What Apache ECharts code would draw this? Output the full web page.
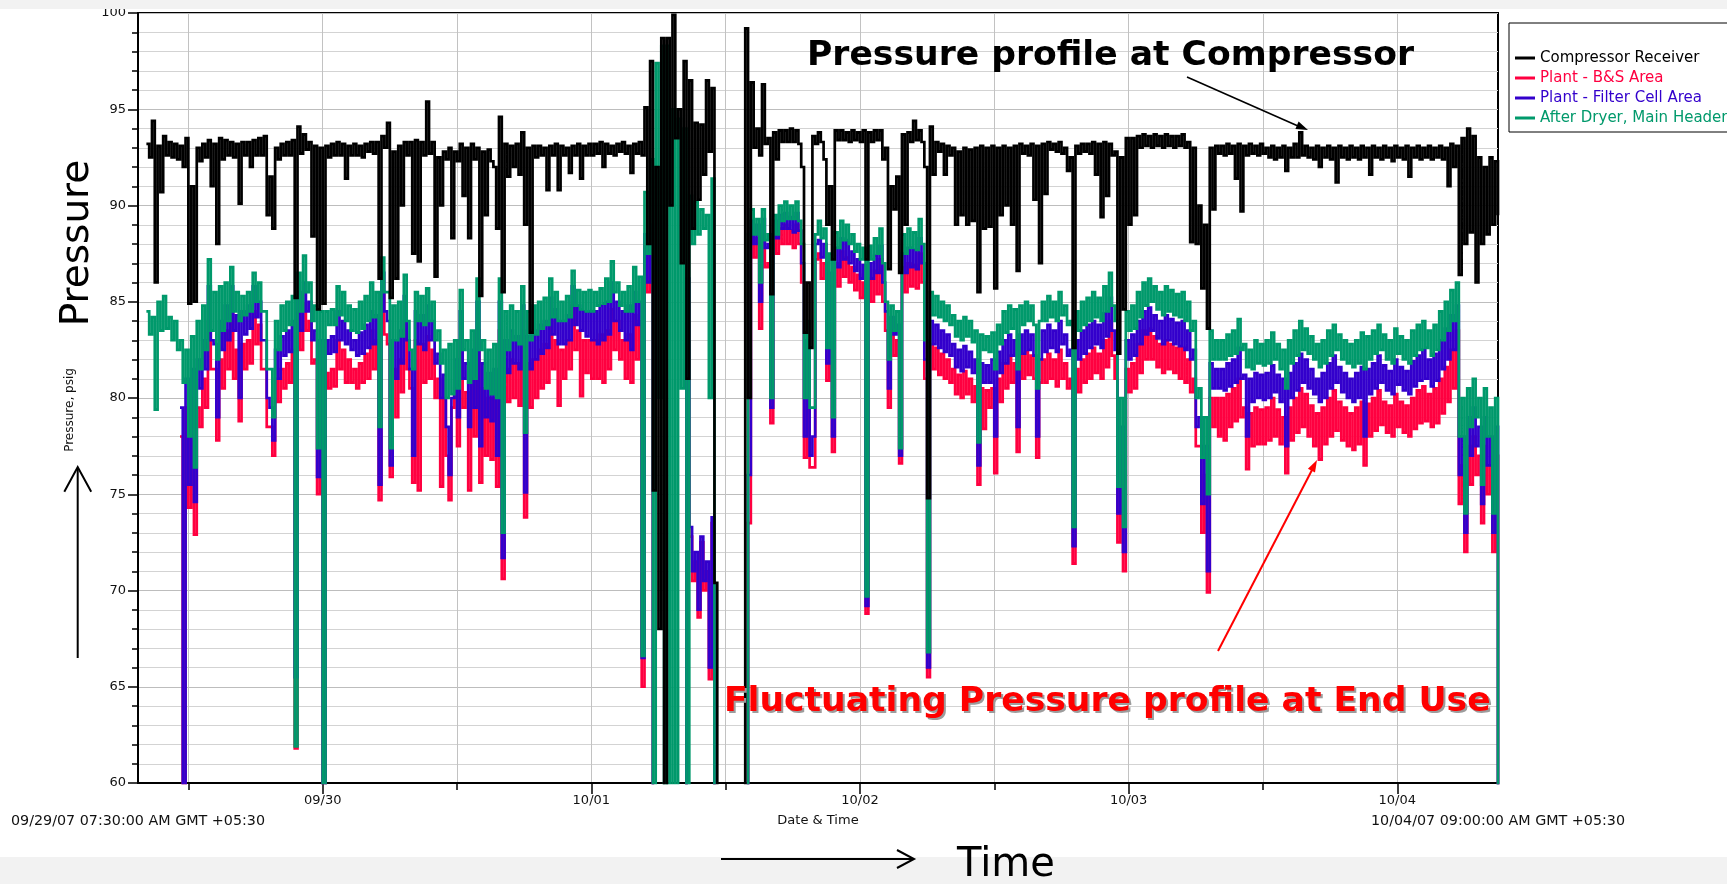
<!DOCTYPE html>
<html><head><meta charset="utf-8">
<script src="https://cdn.jsdelivr.net/npm/echarts@6/dist/echarts.min.js"></script>
<style>html,body{margin:0;padding:0;background:#fff}#c{width:1727px;height:884px}</style>
</head><body><div id="c"></div>
<script>
// ---- time grid: hours since 09/29/07 07:30, one pair of readings every half hour ----
const T0 = 0.75, STEP = 0.5;
const dayTicks = [16.5, 40.5, 64.5, 88.5, 112.5];
const dayLabels = ['09/30', '10/01', '10/02', '10/03', '10/04'];
const noonTicks = [4.5, 28.5, 52.5, 76.5, 100.5];
const seriesNames = ['Compressor Receiver', 'Plant - B&S Area', 'Plant - Filter Cell Area', 'After Dryer, Main Header'];
const seriesColors = ['#000000', '#ff0040', '#3300cc', '#00996b'];

// Compressor Receiver
const recvHi = [
93.2,94.4,93.1,93.6,93.3,93.2,93.1,93.5,91.0,93.0,93.2,93.4,93.2,93.5,93.4,93.3,93.2,93.3,93.3,93.4,93.5,93.6,91.5,93.0,
93.2,93.3,93.4,94.1,93.7,93.3,93.1,93.0,93.1,93.2,93.3,93.2,93.1,93.2,93.1,93.2,93.3,93.3,93.6,94.3,92.8,93.1,93.3,93.3,
93.4,93.3,95.4,93.3,92.5,92.8,93.0,92.8,93.2,93.0,93.2,93.0,92.8,92.9,92.0,94.6,93.2,93.1,93.2,93.8,93.0,93.1,93.1,93.0,
93.1,93.2,93.1,93.0,93.1,93.2,93.1,93.2,93.2,93.3,93.2,93.1,93.2,93.3,93.1,93.2,93.3,95.1,97.5,92.0,98.7,98.7,99.9,95.0,
97.5,96.5,94.3,94.2,96.5,96.1,59,58,58,58,58,99.2,96.4,94.0,96.3,93.5,93.8,93.9,93.9,94.0,93.9,92.0,86.0,93.6,
93.8,92.4,91.0,93.9,93.9,93.8,93.9,93.8,93.9,93.8,93.9,93.9,93.0,91.0,91.5,93.7,93.8,94.4,93.9,92.0,94.1,93.3,93.2,93.1,
93.0,92.8,93.0,92.9,93.0,93.1,93.0,93.1,93.0,93.1,93.0,93.1,93.2,93.1,93.2,93.1,93.2,93.3,93.2,93.3,93.0,92.5,93.1,93.2,
93.2,93.3,93.2,93.3,93.2,92.8,92.5,93.5,93.5,93.6,93.7,93.6,93.7,93.6,93.7,93.6,93.6,93.7,93.3,93.0,90.0,89.0,93.0,93.1,
93.1,93.2,93.1,93.2,93.1,93.2,93.1,93.2,93.0,93.1,93.0,93.1,93.0,93.2,93.8,93.1,93.0,93.1,93.0,93.1,93.0,93.1,93.0,93.1,
93.0,93.1,93.0,93.1,93.0,93.1,93.0,93.1,93.0,93.1,93.0,93.1,93.0,93.1,93.0,93.1,93.0,93.2,93.1,93.5,94.0,93.6,92.5,92.0,
92.5,92.3];
const recvLo = [
92.5,86.0,90.7,92.6,92.5,92.4,92.0,84.9,85.0,92.3,92.5,91.0,88.0,92.4,92.6,92.5,90.1,92.6,92.0,92.6,92.6,89.5,88.8,92.4,
92.6,92.6,85.2,92.7,92.9,88.4,84.6,84.9,92.5,92.6,92.6,91.4,92.6,92.6,92.5,92.8,92.7,86.2,93.0,85.2,86.2,90.0,92.6,87.5,
87.1,92.6,92.7,86.3,90.0,92.4,88.3,92.3,90.5,88.3,92.4,85.3,89.5,92.3,88.8,85.5,91.5,92.0,91.6,89.0,83.4,92.5,92.6,90.8,
92.6,90.8,92.6,91.7,92.6,91.4,92.6,92.6,92.7,92.0,92.7,92.6,92.8,92.7,91.7,92.7,92.6,88.0,75.2,68.0,59.0,90.0,93.5,87.0,
81.0,88.8,90.3,91.6,92.8,70.4,58,58,58,58,58,80.0,93.0,92.6,93.2,85.4,92.4,93.3,93.3,93.3,93.2,83.4,82.6,93.2,
93.3,89.0,87.2,93.4,93.4,93.3,93.4,93.3,87.2,93.3,93.4,92.4,86.7,89.8,86.5,89.0,93.3,93.4,93.3,74.8,91.6,92.8,91.6,92.6,
89.0,89.5,89.0,89.2,85.5,88.8,88.9,85.7,89.5,90.0,89.0,86.6,92.7,92.6,90.3,87.0,90.6,92.9,92.8,92.7,91.8,82.6,92.7,92.8,
92.7,91.6,89.4,90.5,92.6,82.3,84.6,89.0,89.5,93.0,93.1,93.0,93.1,93.0,93.1,93.0,93.1,93.0,88.1,88.0,85.7,83.6,89.8,92.7,
92.6,92.7,91.4,89.7,92.6,92.7,92.6,92.7,92.5,92.4,92.5,91.8,92.5,92.5,92.6,92.5,92.4,92.0,92.5,92.4,91.2,92.5,92.4,92.5,
92.4,92.5,91.6,92.5,92.4,92.5,92.3,92.5,92.4,91.5,92.5,92.4,92.5,92.4,92.5,92.4,91.0,92.0,86.4,88.0,88.6,86.0,88.0,88.5,
89.0,89.5];

// Plant - B&S Area
const bsHi = [
null,null,null,null,null,null,78.0,79.5,80.0,79.5,81.0,84.0,81.5,82.0,83.5,84.5,82.5,82.8,83.0,84.5,83.8,81.5,78.5,81.0,
81.5,81.8,82.5,84.5,84.9,84.0,82.0,81.5,81.3,81.5,83.0,82.5,82.0,81.5,81.8,82.3,83.5,83.0,85.5,82.8,81.5,82.0,84.0,80.5,
83.0,82.8,83.2,82.5,81.0,80.0,74.7,80.5,83.0,80.3,81.0,83.5,80.5,80.0,80.0,83.5,81.5,82.0,81.8,83.5,81.8,82.0,82.5,82.8,
84.0,83.0,82.5,83.0,84.8,83.5,83.0,83.0,83.0,83.3,83.5,84.6,84.0,83.0,83.3,84.3,84.0,88.0,88.5,58,58,58,58,58,
58,72.8,71.5,72.5,71.0,73.5,58,58,58,58,58,58,88.8,88.3,88.5,87.0,88.5,88.8,89.0,88.7,89.0,86.0,82.0,76.4,
87.5,87.0,85.8,87.0,87.6,87.3,86.8,86.4,86.0,86.2,86.6,87.2,83.5,83.5,83.0,86.8,87.0,86.9,87.5,81.0,82.8,82.6,82.3,82.0,
81.5,81.2,81.4,81.0,80.6,80.5,80.4,80.5,81.0,81.8,82.2,81.8,82.2,82.4,82.2,76.9,82.0,82.3,82.0,82.5,81.8,81.0,81.5,82.0,
82.3,82.6,82.3,83.0,84.0,81.0,77.0,81.5,81.8,82.8,83.5,83.6,83.2,82.8,83.0,82.8,82.6,82.6,82.0,81.0,77.5,76.0,80.0,80.0,
80.0,80.2,80.5,81.0,79.5,79.2,79.5,79.4,79.5,80.0,79.4,79.0,79.5,80.0,80.5,80.2,79.6,79.2,79.5,80.0,80.4,79.8,79.5,79.2,
79.5,79.8,79.7,80.0,80.4,79.8,79.6,80.2,79.8,79.6,80.0,80.4,80.6,80.2,80.5,81.0,81.6,82.5,83.5,76.5,77.5,78.0,77.0,77.5,
76.5,77.0];
const bsLo = [
null,null,null,null,null,null,59.0,74.3,72.9,78.5,79.5,81.5,77.8,80.5,81.5,81.0,78.8,81.5,81.8,82.8,81.5,78.5,77.0,79.8,
80.5,80.8,61.8,82.5,83.5,81.8,75.0,59.0,80.5,80.6,81.5,80.8,80.8,80.5,80.8,81.0,81.5,74.7,83.3,75.9,79.0,80.3,81.5,75.6,
75.2,80.8,81.0,80.0,75.4,77.0,79.5,77.5,79.5,75.2,78.0,75.6,77.0,76.8,75.4,70.6,79.8,80.0,79.6,73.8,79.5,80.0,80.5,80.8,
81.5,79.6,81.0,81.5,82.5,80.1,81.3,81.0,81.0,80.8,81.5,82.5,82.0,81.0,80.8,82.0,65.0,85.5,59.0,58,58,58,58,58,
85.0,70.5,68.6,70.0,65.4,59.0,58,58,58,58,58,73.5,87.3,83.6,86.8,78.7,87.5,88.0,88.0,87.8,88.0,76.9,76.4,87.2,
86.2,80.9,77.2,85.8,86.3,86.0,85.6,85.2,68.8,85.0,85.4,85.0,79.5,82.2,76.6,85.5,85.8,85.7,86.0,65.5,81.5,81.2,81.0,80.8,
80.2,80.0,80.2,79.8,75.5,78.4,79.5,76.1,79.8,80.5,80.8,77.2,81.0,81.2,81.0,80.8,80.8,81.0,80.6,81.0,80.5,71.4,80.3,80.8,
81.0,81.3,81.0,81.6,82.2,72.5,71.0,80.3,80.5,81.3,82.0,82.0,81.6,81.3,81.5,81.3,81.0,80.8,80.3,77.5,73.0,69.9,78.5,78.0,
77.8,78.5,78.8,79.0,76.3,77.5,77.6,77.6,77.8,78.0,77.6,76.1,77.8,78.2,78.5,78.0,77.5,76.8,77.6,78.0,78.3,77.8,77.5,77.3,
77.6,76.5,78.0,78.3,78.6,78.2,78.0,78.5,78.2,78.0,78.4,78.7,78.8,78.5,78.7,79.2,79.8,80.5,74.5,72.0,75.5,76.0,73.5,75.0,
72.0,59.0];

// Plant - Filter Cell Area
const fcHi = [
null,null,null,null,null,null,79.5,81.0,81.5,82.0,83.0,85.8,82.8,84.0,84.8,85.8,84.3,84.5,84.8,85.8,85.0,83.0,79.5,82.5,
83.2,83.5,84.0,85.5,86.0,85.0,83.5,83.0,83.0,83.2,84.5,84.0,83.5,83.0,83.4,83.8,84.5,84.3,86.5,84.0,83.0,83.5,85.3,81.5,
84.5,84.3,84.8,84.0,82.3,81.2,76.0,82.0,84.5,81.8,82.5,85.0,81.8,81.3,81.5,85.0,83.0,83.5,83.2,84.8,83.2,83.5,83.8,84.0,
85.2,84.6,84.0,84.3,85.8,84.8,84.5,84.5,84.5,84.8,85.0,86.0,85.0,84.5,84.8,85.5,85.0,88.5,89.0,58,58,58,58,58,
58,73.3,72.0,72.8,71.5,73.8,58,58,58,58,58,58,89.2,89.0,89.3,88.0,89.2,89.5,89.6,89.4,89.6,87.0,83.0,78.0,
88.2,88.0,86.5,87.8,88.3,88.2,87.6,87.2,86.9,87.0,87.4,87.9,84.5,84.2,83.8,87.5,87.8,87.7,88.3,82.0,84.0,83.8,83.5,83.3,
82.8,82.5,82.7,82.4,82.0,81.8,81.7,82.0,82.4,83.0,83.3,83.0,83.3,83.5,83.3,78.0,83.5,83.8,83.5,84.0,83.3,82.5,83.0,83.5,
83.8,84.0,83.8,84.4,85.2,82.5,78.5,83.0,83.3,84.0,84.5,84.7,84.3,84.0,84.3,84.1,83.9,84.0,83.5,82.5,79.0,77.5,81.8,81.5,
81.5,81.8,82.0,82.6,81.2,81.0,81.3,81.2,81.3,81.7,81.2,81.0,81.3,81.8,82.3,82.0,81.5,81.0,81.3,81.8,82.2,81.6,81.3,81.0,
81.3,81.6,81.5,81.8,82.2,81.7,81.4,82.0,81.6,81.4,81.9,82.2,82.5,82.0,82.3,83.0,83.6,84.3,84.8,78.0,79.0,79.5,78.5,79.0,
78.0,78.5];
const fcLo = [
null,null,null,null,null,null,59.0,75.5,74.6,80.5,81.5,83.0,79.0,82.5,83.0,83.5,80.0,83.3,83.6,84.2,83.0,80.0,77.8,81.0,
82.2,82.4,65.5,83.5,84.5,83.0,75.9,59.0,82.3,82.4,83.0,82.8,82.5,82.2,82.3,82.6,82.8,75.5,84.5,76.5,81.0,81.8,83.0,77.0,
82.8,82.5,83.0,81.8,80.0,78.5,80.0,79.0,81.0,78.5,79.5,77.5,79.0,78.8,77.0,71.7,81.3,81.8,81.5,75.1,81.5,82.0,82.3,82.6,
83.3,82.8,82.8,83.0,83.8,83.5,83.2,83.0,82.8,83.0,83.3,84.0,83.5,83.0,82.5,83.8,66.5,86.0,59.0,58,58,58,58,58,
86.2,71.0,69.0,70.5,66.0,59.0,58,58,58,58,58,76.0,88.0,85.0,87.8,79.5,88.3,88.8,88.8,88.6,88.7,78.0,77.0,88.0,
87.3,81.8,78.0,86.8,87.2,87.0,86.6,86.2,69.2,86.2,86.5,86.0,80.5,83.3,77.0,86.5,86.8,86.7,87.0,66.0,82.8,82.6,82.4,82.2,
81.6,81.4,81.6,81.3,76.5,80.8,80.8,78.0,81.3,81.8,82.2,78.5,82.3,82.5,82.2,82.0,82.4,82.6,82.4,82.8,82.2,72.3,82.0,82.3,
82.6,82.8,82.6,83.2,83.5,74.0,72.0,82.0,82.2,82.8,83.3,83.5,83.1,82.8,83.0,82.8,82.7,82.5,82.0,78.5,74.5,71.0,80.5,80.5,
80.4,80.6,80.8,81.0,78.0,79.8,80.0,79.9,80.0,80.3,79.8,77.5,80.0,80.4,80.8,80.5,80.2,79.8,80.0,80.5,80.8,80.3,80.0,79.8,
80.0,78.0,80.2,80.5,80.8,80.4,80.2,80.7,80.4,80.2,80.6,80.9,81.0,80.6,80.9,81.5,82.0,82.5,76.0,73.0,77.0,77.5,74.5,76.5,
73.0,59.0];

// After Dryer, Main Header
const adHi = [
84.5,84.2,85.0,85.3,84.2,84.0,83.0,82.5,83.2,84.0,84.8,87.2,85.5,85.8,86.0,86.8,85.5,85.3,85.5,86.5,86.0,84.5,81.5,84.0,
84.8,85.0,85.3,86.5,87.4,86.0,84.8,84.5,84.5,84.6,85.8,85.5,84.8,84.6,85.0,85.3,86.0,85.5,87.3,85.5,84.8,85.0,86.4,82.5,
85.5,85.3,85.7,85.0,83.5,82.5,82.8,83.0,85.6,83.0,83.5,86.2,83.0,82.5,82.8,86.2,84.5,84.8,84.5,85.8,84.5,84.8,85.0,85.2,
86.2,85.5,85.0,85.3,86.6,85.6,85.5,85.6,85.5,85.7,86.2,87.1,86.0,85.5,85.8,86.8,86.3,90.7,92.4,97.4,98.3,98.3,95.0,94.5,
94.0,90.5,90.2,89.8,89.5,91.4,58,58,58,58,58,58,89.8,89.3,89.8,88.5,89.5,90.0,90.2,90.0,90.2,88.0,84.0,79.5,
89.2,88.8,87.5,88.6,89.2,89.0,88.5,88.0,87.8,87.9,88.3,88.8,85.0,84.8,84.5,88.5,88.8,88.6,89.3,83.0,85.5,85.3,85.0,84.8,
84.3,84.0,84.2,84.0,83.5,83.3,83.2,83.4,83.8,84.5,84.8,84.6,84.8,85.0,84.8,80.5,85.0,85.3,85.0,85.5,84.8,84.0,84.5,85.0,
85.2,85.5,85.2,85.8,86.5,84.0,80.0,84.5,84.8,85.5,86.0,86.2,85.8,85.5,85.8,85.6,85.4,85.5,85.0,84.0,80.5,79.0,83.5,83.0,
83.0,83.3,83.5,84.1,82.8,82.5,83.0,82.8,83.0,83.4,82.8,82.5,83.0,83.5,84.0,83.6,83.2,82.8,83.0,83.5,83.8,83.3,83.0,82.8,
83.0,83.4,83.2,83.5,83.8,83.3,83.0,83.6,83.2,83.0,83.5,83.8,84.0,83.5,83.8,84.5,85.0,85.6,86.0,80.0,80.5,81.0,80.0,80.5,
79.5,80.0];
const adLo = [
83.3,79.4,83.5,83.6,83.0,82.5,80.8,78.0,76.4,81.5,82.5,83.5,82.0,83.5,84.0,84.5,84.0,84.3,84.5,85.0,84.5,81.5,79.0,82.5,
83.5,83.8,61.9,84.5,85.5,84.0,77.4,59.0,83.8,83.8,84.3,84.0,83.5,83.4,83.6,84.0,84.2,78.5,85.5,77.4,83.0,83.2,84.0,81.5,
84.0,83.8,84.0,83.0,81.8,80.0,80.2,80.5,82.5,80.8,81.0,82.5,80.5,80.2,80.0,73.0,82.5,83.0,82.8,78.2,83.0,83.3,83.6,83.8,
84.2,84.0,84.0,84.2,84.8,84.6,84.5,84.5,84.8,84.9,85.0,85.5,84.8,84.5,84.5,85.0,66.6,87.5,59.0,80.0,59.0,59.0,59.0,80.5,
59.0,88.0,88.5,88.8,80.0,59.0,58,58,58,58,58,88.5,88.5,86.0,88.2,80.0,88.5,89.2,89.3,89.3,89.2,80.0,79.5,88.5,
88.3,82.6,79.0,87.8,88.2,88.0,87.6,87.2,69.7,87.2,87.5,87.0,82.0,83.5,77.4,87.5,87.8,87.7,88.0,66.8,84.3,84.2,84.0,83.8,
83.2,83.0,83.2,82.9,77.7,82.5,82.4,81.5,82.8,83.4,83.6,81.5,83.8,84.0,83.8,84.0,84.0,84.2,84.0,84.3,83.8,73.3,83.5,83.8,
84.0,84.2,84.0,84.5,84.8,75.4,73.3,83.5,83.6,84.2,84.8,85.0,84.6,84.3,84.5,84.3,84.2,84.0,83.5,80.0,76.9,75.0,82.0,82.0,
82.0,82.2,82.3,82.5,81.6,81.5,81.8,81.7,81.8,82.0,81.5,80.5,81.8,82.2,82.5,82.3,82.0,81.6,81.8,82.2,82.5,82.0,81.8,81.6,
81.8,81.5,82.0,82.3,82.5,82.0,81.8,82.3,82.0,81.8,82.2,82.5,82.6,82.2,82.5,83.0,83.5,84.0,78.0,74.0,78.5,79.0,75.5,78.0,
74.0,59.0];

// ---- build [time, value] pairs: first reading at t, second at t + STEP/2 ----
function zig(hi, lo) {
  const out = [];
  for (let i = 0; i < hi.length; i++) {
    const t = T0 + STEP * i;
    out.push([t, hi[i]]);
    out.push([t + STEP / 2, lo[i]]);
  }
  return out;
}

const FONT = 'DejaVu Sans';
const defs = [
  { idx: 1, hi: bsHi, lo: bsLo, w: 2.7 },
  { idx: 2, hi: fcHi, lo: fcLo, w: 2.7 },
  { idx: 3, hi: adHi, lo: adLo, w: 2.7 },
  { idx: 0, hi: recvHi, lo: recvLo, w: 2.7 }
];

const chart = echarts.init(document.getElementById('c'), null, { renderer: 'canvas' });
const PAT = '#f2f2f2';
const option = {
  animation: false,
  backgroundColor: '#ffffff',
  grid: { left: 138, top: 13, width: 1360, height: 770, show: true, borderColor: '#000', borderWidth: 2, backgroundColor: 'rgba(0,0,0,0)' },
  legend: {
    show: true, orient: 'vertical', left: 1515, top: 50, padding: 0,
    icon: 'rect', itemWidth: 20, itemHeight: 3, itemGap: 4, selectedMode: false,
    textStyle: { fontSize: 15, fontFamily: FONT, lineHeight: 16 },
    data: seriesNames.map((n, i) => ({ name: n, textStyle: { color: seriesColors[i] } }))
  },
  xAxis: [
    {
      type: 'value', min: 0, max: 121.5, position: 'bottom',
      axisLine: { show: true, onZero: false, lineStyle: { color: '#000', width: 2 } },
      axisTick: { show: true, customValues: dayTicks, length: 11, lineStyle: { color: '#000', width: 1.5 } },
      axisLabel: { show: true, customValues: dayTicks, margin: 11, color: '#111', fontSize: 13, fontFamily: FONT,
        formatter: v => { const k = dayTicks.indexOf(v); return k >= 0 ? dayLabels[k] : ''; } },
      splitLine: { show: true, lineStyle: { color: '#c2c2c2', width: 1 } }
    },
    {
      type: 'value', min: 0, max: 121.5, position: 'bottom',
      axisLine: { show: false },
      axisTick: { show: true, customValues: noonTicks, length: 7, lineStyle: { color: '#000', width: 1.5 } },
      axisLabel: { show: false },
      splitLine: { show: true, lineStyle: { color: '#c2c2c2', width: 1 } }
    }
  ],
  yAxis: {
    type: 'value', min: 60, max: 100, interval: 5,
    axisLine: { show: true, onZero: false, lineStyle: { color: '#000', width: 2 } },
    axisTick: { show: true, length: 10, lineStyle: { color: '#000', width: 1.5 } },
    minorTick: { show: true, splitNumber: 5, length: 6, lineStyle: { color: '#000', width: 1.5 } },
    axisLabel: { margin: 12, color: '#111', fontSize: 13, fontFamily: FONT },
    splitLine: { show: true, lineStyle: { color: '#bdbdbd', width: 1 } },
    minorSplitLine: { show: true, lineStyle: { color: '#d3d3d3', width: 1 } }
  },
  series: defs.map(d => ({
    type: 'line', name: seriesNames[d.idx], data: zig(d.hi, d.lo),
    xAxisIndex: 0, yAxisIndex: 0, step: 'end',
    showSymbol: false, symbol: 'none', silent: true, clip: true,
    lineStyle: { color: seriesColors[d.idx], width: d.w, join: 'miter', cap: 'butt' },
    itemStyle: { color: seriesColors[d.idx] },
    emphasis: { disabled: true }
  })),
  graphic: { elements: [
    { type: 'rect', z: 50, shape: { x: 0, y: 0, width: 1727, height: 9 }, style: { fill: PAT } },
    { type: 'rect', z: 1, shape: { x: 0, y: 857, width: 1727, height: 27 }, style: { fill: PAT } },
    { type: 'rect', z: 1, shape: { x: 1509, y: 23, width: 240, height: 109 }, style: { fill: '#fff', stroke: '#000', lineWidth: 1 } },
    { type: 'text', z: 10, x: 807, y: 56, style: { text: 'Pressure profile at Compressor', fontSize: 34.6, fontWeight: 'bold', fontFamily: FONT, fill: '#000', align: 'left', verticalAlign: 'middle' } },
    { type: 'text', z: 10, x: 726, y: 704, style: { text: 'Fluctuating Pressure profile at End Use', fontSize: 34.6, fontWeight: 'bold', fontFamily: FONT, fill: '#9c9c9c', align: 'left', verticalAlign: 'middle' } },
    { type: 'text', z: 11, x: 724, y: 702, style: { text: 'Fluctuating Pressure profile at End Use', fontSize: 34.6, fontWeight: 'bold', fontFamily: FONT, fill: '#ff0000', align: 'left', verticalAlign: 'middle' } },
    { type: 'line', z: 10, shape: { x1: 1187, y1: 77, x2: 1298, y2: 126 }, style: { stroke: '#000', lineWidth: 1.6 } },
    { type: 'polygon', z: 10, shape: { points: [[1308, 130], [1295.4, 128.9], [1298.6, 121.5]] }, style: { fill: '#000' } },
    { type: 'line', z: 10, shape: { x1: 1218, y1: 651, x2: 1312, y2: 470 }, style: { stroke: '#ff0000', lineWidth: 2 } },
    { type: 'polygon', z: 10, shape: { points: [[1317, 460], [1315.0, 472.5], [1307.9, 468.8]] }, style: { fill: '#ff0000' } },
    { type: 'text', z: 10, x: 78, y: 243, rotation: Math.PI / 2, style: { text: 'Pressure', fontSize: 39, fontFamily: FONT, fill: '#000', align: 'center', verticalAlign: 'middle' } },
    { type: 'text', z: 10, x: 70, y: 410, rotation: Math.PI / 2, style: { text: 'Pressure, psig', fontSize: 12, fontFamily: FONT, fill: '#111', align: 'center', verticalAlign: 'middle' } },
    { type: 'line', z: 10, shape: { x1: 77.7, y1: 658, x2: 77.7, y2: 468 }, style: { stroke: '#000', lineWidth: 2 } },
    { type: 'polyline', z: 10, shape: { points: [[64.3, 491.7], [77.7, 467], [91.2, 491.7]] }, style: { stroke: '#000', lineWidth: 2, fill: null } },
    { type: 'line', z: 10, shape: { x1: 721, y1: 859, x2: 913, y2: 859 }, style: { stroke: '#000', lineWidth: 2 } },
    { type: 'polyline', z: 10, shape: { points: [[897, 850], [914, 859], [897, 868]] }, style: { stroke: '#000', lineWidth: 2, fill: null } },
    { type: 'text', z: 10, x: 1006, y: 866, style: { text: 'Time', fontSize: 40, fontFamily: FONT, fill: '#000', align: 'center', verticalAlign: 'middle' } },
    { type: 'text', z: 10, x: 818, y: 821, style: { text: 'Date & Time', fontSize: 13, fontFamily: FONT, fill: '#111', align: 'center', verticalAlign: 'middle' } },
    { type: 'text', z: 10, x: 11, y: 821, style: { text: '09/29/07 07:30:00 AM GMT +05:30', fontSize: 14.3, fontFamily: FONT, fill: '#111', align: 'left', verticalAlign: 'middle' } },
    { type: 'text', z: 10, x: 1625, y: 821, style: { text: '10/04/07 09:00:00 AM GMT +05:30', fontSize: 14.3, fontFamily: FONT, fill: '#111', align: 'right', verticalAlign: 'middle' } }
  ] }
};
chart.setOption(option);
</script></body></html>
